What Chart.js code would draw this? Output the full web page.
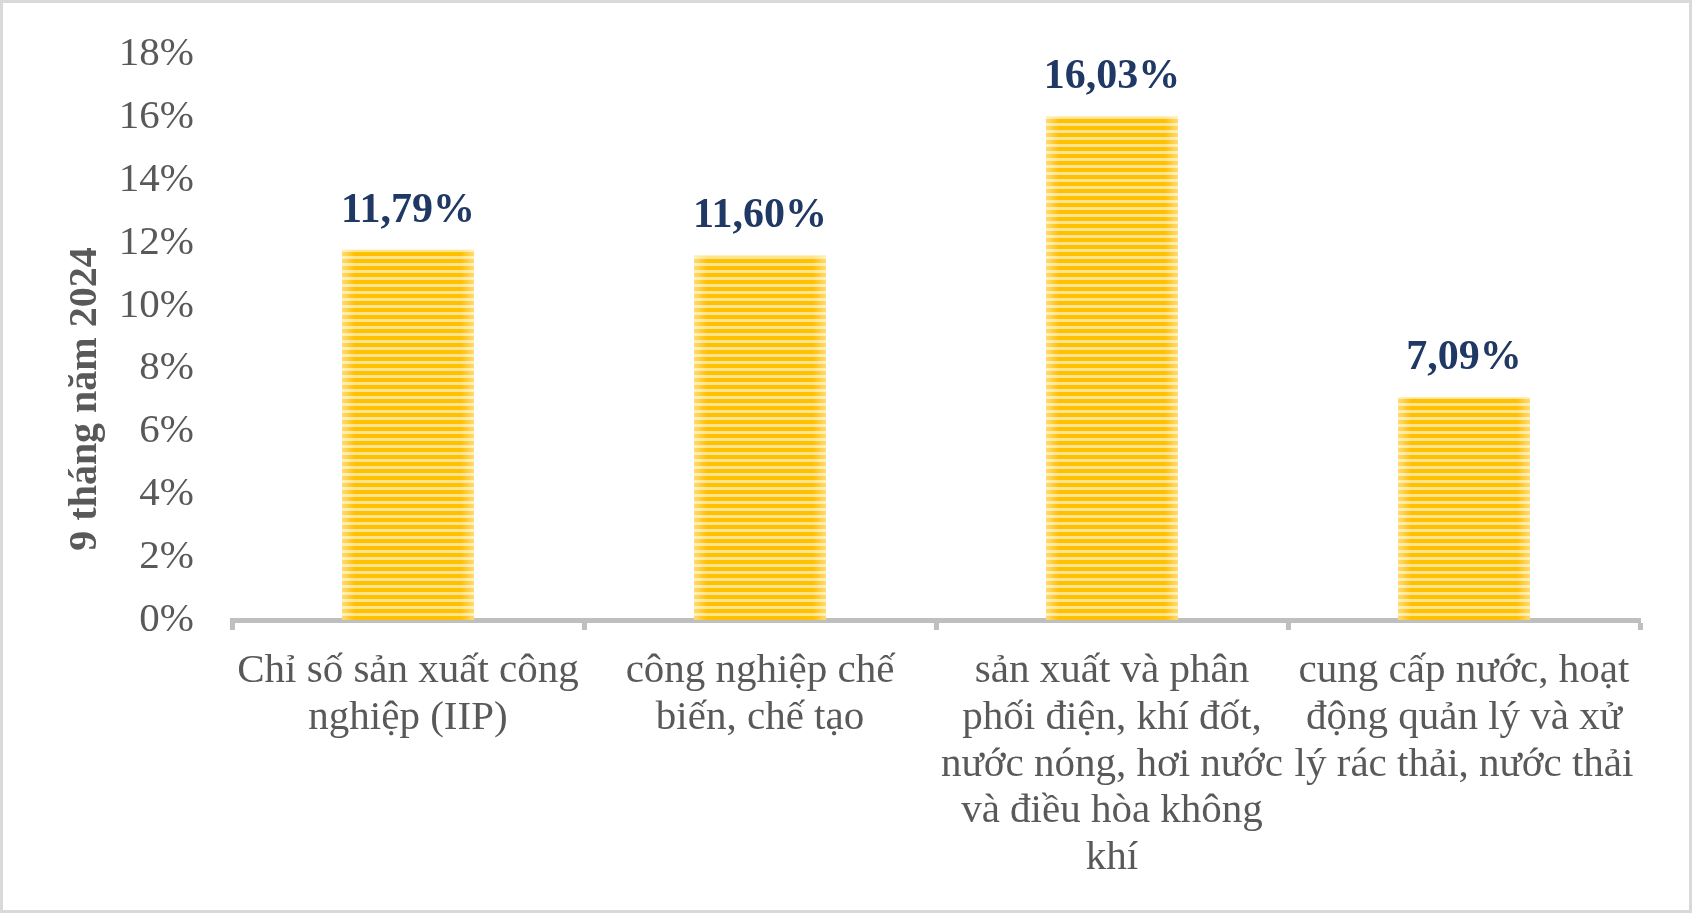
<!DOCTYPE html>
<html lang="vi">
<head>
    <meta charset="UTF-8">
    <title>9 tháng năm 2024</title>
    <script src="https://cdn.jsdelivr.net/npm/chart.js"></script>
    <style>
        html, body { margin: 0; padding: 0; background: #fff; }
        .frame {
            width: 1692px; height: 913px;
            box-sizing: border-box;
            border: 3px solid #d9d9d9;
            position: relative;
        }
        .plot {
            position: absolute;
            left: 0; top: -3px;
            width: 1686px; height: 910px;
        }
    </style>
</head>
<body>
    <div class="frame">
        <div class="plot"><canvas id="chart"></canvas></div>
    </div>

    <script>
        // Data
        const categories = [
            ['Chỉ số sản xuất công', 'nghiệp (IIP)'],
            ['công nghiệp chế', 'biến, chế tạo'],
            ['sản xuất và phân', 'phối điện, khí đốt,', 'nước nóng, hơi nước', 'và điều hòa không', 'khí'],
            ['cung cấp nước, hoạt', 'động quản lý và xử', 'lý rác thải, nước thải']
        ];
        const values = [11.79, 11.60, 16.03, 7.09];
        const yTicks = [0, 2, 4, 6, 8, 10, 12, 14, 16, 18];
        const yTitle = '9 tháng năm 2024';

        const FONT = '"Liberation Serif", "Times New Roman", serif';

        // striped yellow fill
        function stripePattern() {
            const c = document.createElement('canvas');
            c.width = 4; c.height = 7;
            const g = c.getContext('2d');
            g.fillStyle = '#ffe48f';
            g.fillRect(0, 0, 4, 7);
            g.fillStyle = '#ffc000';
            g.fillRect(0, 0, 4, 4);
            return g.createPattern(c, 'repeat');
        }

        // soft lighter edges, value labels, rotated axis title
        const barExtras = {
            id: 'barExtras',
            afterDatasetsDraw(chart) {
                const ctx = chart.ctx;
                const meta = chart.getDatasetMeta(0);
                meta.data.forEach((bar, i) => {
                    const left = bar.x - bar.width / 2;
                    const right = bar.x + bar.width / 2;
                    const grad = ctx.createLinearGradient(left, 0, right, 0);
                    grad.addColorStop(0, 'rgba(255,255,255,0.45)');
                    grad.addColorStop(0.1, 'rgba(255,255,255,0)');
                    grad.addColorStop(0.9, 'rgba(255,255,255,0)');
                    grad.addColorStop(1, 'rgba(255,255,255,0.45)');
                    ctx.save();
                    ctx.fillStyle = grad;
                    ctx.fillRect(left, bar.y, bar.width, bar.base - bar.y);
                    ctx.restore();

                    ctx.save();
                    ctx.font = 'bold 42px ' + FONT;
                    ctx.fillStyle = '#1f3864';
                    ctx.textAlign = 'center';
                    ctx.textBaseline = 'bottom';
                    ctx.fillText(values[i].toFixed(2).replace('.', ',') + '%', bar.x, bar.y - 18);
                    ctx.restore();
                });

                ctx.save();
                ctx.translate(83, 399);
                ctx.rotate(-Math.PI / 2);
                ctx.font = 'bold 40px ' + FONT;
                ctx.fillStyle = '#595959';
                ctx.textAlign = 'center';
                ctx.textBaseline = 'middle';
                ctx.fillText(yTitle, 0, 0);
                ctx.restore();
            }
        };

        const ctx = document.getElementById('chart').getContext('2d');
        new Chart(ctx, {
            type: 'bar',
            data: {
                labels: categories,
                datasets: [{
                    data: values,
                    backgroundColor: stripePattern(),
                    borderWidth: 0,
                    barPercentage: 0.375,
                    categoryPercentage: 1
                }]
            },
            options: {
                responsive: true,
                maintainAspectRatio: false,
                animation: false,
                layout: { padding: { top: 30, right: 49, left: 0, bottom: 0 } },
                plugins: {
                    legend: { display: false },
                    tooltip: { enabled: false }
                },
                scales: {
                    x: {
                        afterFit(scale) { scale.height = 290; },
                        border: { display: true, color: '#bfbfbf', width: 5 },
                        grid: {
                            offset: true,
                            drawOnChartArea: false,
                            drawTicks: true,
                            tickLength: 10,
                            tickWidth: 5,
                            tickColor: '#bfbfbf',
                            color: '#bfbfbf'
                        },
                        ticks: {
                            color: '#595959',
                            padding: 18,
                            maxRotation: 0,
                            autoSkip: false,
                            font: { family: FONT, size: 41, lineHeight: 1.14 }
                        }
                    },
                    y: {
                        min: yTicks[0],
                        max: yTicks[yTicks.length - 1],
                        afterFit(scale) { scale.width = 229; },
                        afterBuildTicks(scale) { scale.ticks = yTicks.map(v => ({ value: v })); },
                        border: { display: false },
                        grid: { display: false },
                        ticks: {
                            color: '#595959',
                            padding: 30,
                            callback: v => v + '%',
                            font: { family: FONT, size: 41 }
                        }
                    }
                }
            },
            plugins: [barExtras]
        });
    </script>
</body>
</html>
